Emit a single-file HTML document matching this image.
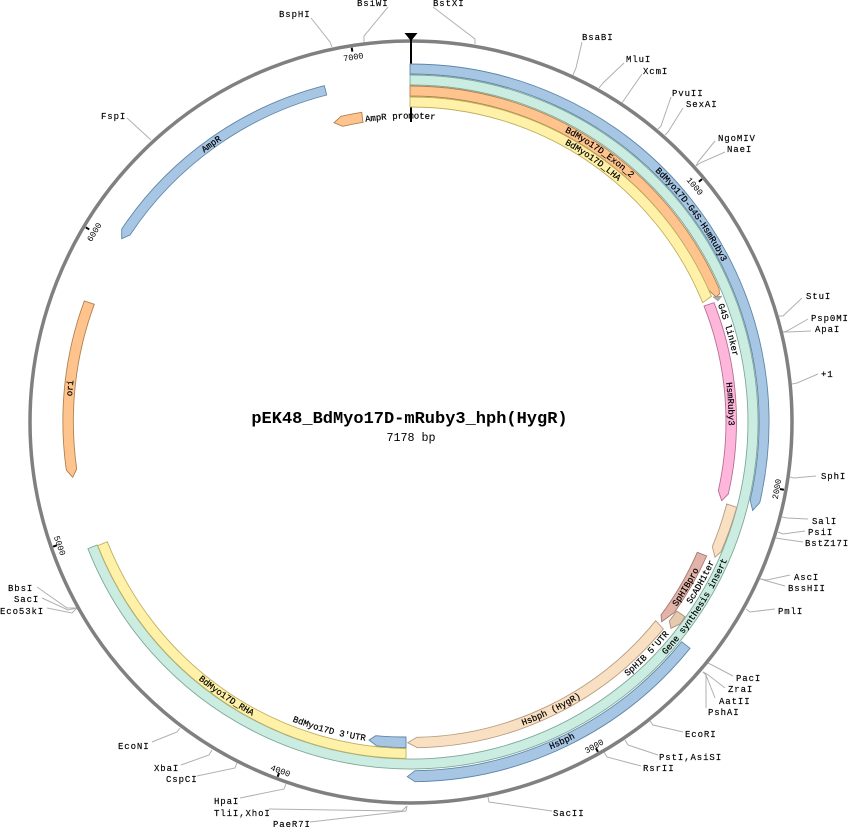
<!DOCTYPE html>
<html>
<head>
<meta charset="utf-8">
<style>
html,body{margin:0;padding:0;background:#fff;width:848px;height:827px;overflow:hidden}
svg{display:block}
text{font-family:"Liberation Mono",monospace;fill:#000}
.s{font-size:9px;letter-spacing:.9px;stroke:#000;stroke-width:.15}
.f{font-size:9px;text-anchor:middle;stroke:#000;stroke-width:.2}
.t{font-size:8.5px;text-anchor:middle}
.c{fill:none;stroke:#b0b0b0;stroke-width:1}
.b{fill:#a6c6e4;stroke:#5f86a8}
.g{fill:#cbede1;stroke:#7fa898}
.o{fill:#ffc48e;stroke:#b0814e}
.y{fill:#fff2a8;stroke:#bfaf60}
.p{fill:#fae0c2;stroke:#b59c7f}
.k{fill:#ffb6db;stroke:#b56f93}
.r{fill:#e2b3a8;stroke:#a3786f}
.n{fill:#e6c9ae;stroke:#a89078}
path{stroke-width:.9}
</style>
</head>
<body>
<svg width="848" height="827" viewBox="0 0 848 827" xmlns="http://www.w3.org/2000/svg">
<defs>
<path id="cw350" d="M411 72A350 350 0 1 1 411 772A350 350 0 1 1 411 72"/>
<path id="cw340" d="M411 82A340 340 0 1 1 411 762A340 340 0 1 1 411 82"/>
<path id="cw3395" d="M411 82.5A339.5 339.5 0 1 1 411 761.5A339.5 339.5 0 1 1 411 82.5"/>
<path id="cw3285" d="M411 93.5A328.5 328.5 0 1 1 411 750.5A328.5 328.5 0 1 1 411 93.5"/>
<path id="cw3175" d="M411 104.5A317.5 317.5 0 1 1 411 739.5A317.5 317.5 0 1 1 411 104.5"/>
<path id="cwb3035" d="M411 725.5A303.5 303.5 0 1 1 411 118.5A303.5 303.5 0 1 1 411 725.5"/>
<path id="cc356" d="M411 778A356 356 0 1 0 411 66A356 356 0 1 0 411 778"/>
<path id="cc345" d="M411 767A345 345 0 1 0 411 77A345 345 0 1 0 411 767"/>
<path id="cc334" d="M411 756A334 334 0 1 0 411 88A334 334 0 1 0 411 756"/>
<path id="cc3235" d="M411 745.5A323.5 323.5 0 1 0 411 98.5A323.5 323.5 0 1 0 411 745.5"/>
<path id="cc322" d="M411 744A322 322 0 1 0 411 100A322 322 0 1 0 411 744"/>
</defs>

<!-- connectors -->
<polyline class="c" points="311,18 330,42 332,47"/>
<polyline class="c" points="388,7 364,36 364,43"/>
<polyline class="c" points="433,7 475,39 475,44"/>
<polyline class="c" points="582,42 576,68 573,75"/>
<polyline class="c" points="624,63 603,83 599,88"/>
<polyline class="c" points="642,74 624,100 622,103"/>
<polyline class="c" points="671,97 661,126 658,129"/>
<polyline class="c" points="683,108 668,132 665,135"/>
<polyline class="c" points="715,141 698,162 696,166"/>
<polyline class="c" points="725,152 700,163 696,166"/>
<polyline class="c" points="802,298 783,316 779,316"/>
<polyline class="c" points="808,319 787,331 783,332"/>
<polyline class="c" points="811,331 788,332 783,332"/>
<polyline class="c" points="818,374 797,383 792,384"/>
<polyline class="c" points="816,476 794,478 790,477"/>
<polyline class="c" points="808,519 787,518 782,517"/>
<polyline class="c" points="805,531 783,534 778,532"/>
<polyline class="c" points="803,542 782,539 776,538"/>
<polyline class="c" points="790,575 767,580 760,579"/>
<polyline class="c" points="785,586 767,581 761,579"/>
<polyline class="c" points="775,609 750,612 746,609"/>
<polyline class="c" points="733,676 712,665 708,663"/>
<polyline class="c" points="725,688 707,674 703,672"/>
<polyline class="c" points="715,698 706,675 703,672"/>
<polyline class="c" points="706,708 706,675 703,672"/>
<polyline class="c" points="683,732 653,725 650,721"/>
<polyline class="c" points="658,755 628,745 625,740"/>
<polyline class="c" points="641,766 607,757 604,752"/>
<polyline class="c" points="552,811 489,802 488,797"/>
<polyline class="c" points="310,822 406,811 407,806"/>
<polyline class="c" points="269,809 402,811 407,806"/>
<polyline class="c" points="240,798 284,789 286,784"/>
<polyline class="c" points="197,776 235,768 237,763"/>
<polyline class="c" points="181,765 209,755 212,750"/>
<polyline class="c" points="152,742 177,732 180,728"/>
<polyline class="c" points="47,608 72,613 77,608"/>
<polyline class="c" points="42,598 68,610 77,608"/>
<polyline class="c" points="37,587 67,608 77,608"/>
<polyline class="c" points="127,118 151,140"/>

<!-- ring -->
<circle cx="411" cy="422" r="381" fill="none" stroke="#808080" stroke-width="3.5"/>

<!-- origin marker -->
<line x1="411" y1="38" x2="411" y2="122" stroke="#000" stroke-width="2"/>
<polygon points="404.5,33 417.5,33 411,41" fill="#000"/>

<!-- ticks -->
<g stroke="#000" stroke-width="2">
<line x1="411" y1="43" x2="411" y2="47" transform="rotate(50.15 411 422)"/>
<line x1="411" y1="43" x2="411" y2="47" transform="rotate(100.3 411 422)"/>
<line x1="411" y1="43" x2="411" y2="47" transform="rotate(150.45 411 422)"/>
<line x1="411" y1="43" x2="411" y2="47" transform="rotate(200.6 411 422)"/>
<line x1="411" y1="43" x2="411" y2="47" transform="rotate(250.8 411 422)"/>
<line x1="411" y1="43" x2="411" y2="47" transform="rotate(300.9 411 422)"/>
<line x1="411" y1="43" x2="411" y2="47" transform="rotate(351 411 422)"/>
</g>
<text class="t" transform="translate(695,186) rotate(50)" y="3">1000</text>
<text class="t" transform="translate(776.5,489) rotate(-80)" y="3">2000</text>
<text class="t" transform="translate(594,746) rotate(-29.5)" y="3">3000</text>
<text class="t" transform="translate(280.5,770.5) rotate(20.6)" y="3">4000</text>
<text class="t" transform="translate(60,545.5) rotate(70.8)" y="3">5000</text>
<text class="t" transform="translate(94,232) rotate(-59)" y="3">6000</text>
<text class="t" transform="translate(353.3,56.7) rotate(-9)" y="3">7000</text>

<!-- features -->
<path class="b" d="M410 64A358 358 0 0 1 759.8 502.5L752.7 510.4L750.1 500.3A348 348 0 0 0 410 74Z"/>
<path class="g" d="M410 75A347 347 0 1 1 87.9 548.6L97.2 545A337 337 0 1 0 410 85Z"/>
<path class="o" d="M410 86A336 336 0 0 1 719 288.5L719.5 294L716 297L708.5 290A326 326 0 0 0 410 96Z"/>
<path class="y" d="M410 97A325.5 325.5 0 0 1 711.5 296.3L702.7 302.7A315 315 0 0 0 410 107Z"/>
<polygon points="713,297 722,296 718,301" fill="#aaa" stroke="#888" stroke-width=".5"/>
<path class="k" d="M714 302.7A325 325 0 0 1 728.3 494L721.7 500.7L718.3 490.7A315 315 0 0 0 704 306Z"/>
<path class="p" d="M736.7 507.3A336 336 0 0 1 721 551.7L715 557.3L712.3 546.7A326 326 0 0 0 726.7 504Z"/>
<path class="r" d="M706.7 556A325 325 0 0 1 674.3 612.5L661.7 621.7L661 615A315 315 0 0 0 697.3 552.3Z"/>
<path class="n" d="M685 616.7A336 336 0 0 1 680 624L671 628.3L669.3 621A326 326 0 0 0 676.7 611Z"/>
<path class="p" d="M663.3 629A326 326 0 0 1 417.3 747.7L407.7 742.7L416.7 737.3A315 315 0 0 0 655.7 620.7Z"/>
<path class="b" d="M406 737L406 747.7A326 326 0 0 1 376.7 746L369 740L375.7 735.7A315 315 0 0 0 406 737Z"/>
<path class="y" d="M406 758.5A336.5 336.5 0 0 1 97.7 545.7L107.3 541.7A326.5 326.5 0 0 0 406 748.5Z"/>
<path class="b" d="M690 648.3A359 359 0 0 1 415 781.7L407.3 776.7L415 770.7A349 349 0 0 0 681.7 641.7Z"/>
<path class="b" d="M121.7 229A347.5 347.5 0 0 1 324.3 85.7L326.7 95A337.5 337.5 0 0 0 130 235L121.7 238.7Z"/>
<path class="o" d="M66.3 470A348 348 0 0 1 84.3 301L94.3 304.3A338 338 0 0 0 76.7 469L72.7 477.3Z"/>
<path class="o" d="M341 116.3A313.5 313.5 0 0 1 361.7 112.3L363 122.3A303.5 303.5 0 0 0 342.7 126.3L334 122.7Z"/>

<!-- feature labels -->
<text class="f"><textPath href="#cw350" startOffset="14.86%">BdMyo17D-G4S-HsmRuby3</textPath></text>
<text class="f"><textPath href="#cw3285" startOffset="9.72%">BdMyo17D_Exon_2</textPath></text>
<text class="f"><textPath href="#cw3175" startOffset="9.67%">BdMyo17D_LHA</textPath></text>
<text class="f"><textPath href="#cw3285" startOffset="20.5%">G4S linker</textPath></text>
<text class="f"><textPath href="#cw3175" startOffset="24.1%">HsmRuby3</textPath></text>
<text class="f"><textPath href="#cw3395" startOffset="90.08%">AmpR</textPath></text>
<text class="f"><textPath href="#cw340" startOffset="76.58%">ori</textPath></text>
<text class="f"><textPath href="#cwb3035" startOffset="49.44%">AmpR promoter</textPath></text>
<text class="f"><textPath href="#cc345" startOffset="15.83%">Gene synthesis insert</textPath></text>
<text class="f"><textPath href="#cc334" startOffset="16.97%">ScADH1ter</textPath></text>
<text class="f"><textPath href="#cc3235" startOffset="16.39%">SpHIBpro</textPath></text>
<text class="f"><textPath href="#cc334" startOffset="12.64%">SpHIB 5'UTR</textPath></text>
<text class="f"><textPath href="#cc3235" startOffset="7.22%">Hsbph (HygR)</textPath></text>
<text class="f"><textPath href="#cc356" startOffset="7.03%">Hsbph</textPath></text>
<text class="f"><textPath href="#cc322" startOffset="95.86%">BdMyo17D 3'UTR</textPath></text>
<text class="f"><textPath href="#cc334" startOffset="90.56%">BdMyo17D_RHA</textPath></text>

<!-- site labels -->
<text class="s" x="279" y="17">BspHI</text>
<text class="s" x="357" y="6">BsiWI</text>
<text class="s" x="433" y="6">BstXI</text>
<text class="s" x="582" y="40">BsaBI</text>
<text class="s" x="626" y="62">MluI</text>
<text class="s" x="643" y="74">XcmI</text>
<text class="s" x="672" y="96">PvuII</text>
<text class="s" x="686" y="107">SexAI</text>
<text class="s" x="718" y="141">NgoMIV</text>
<text class="s" x="727" y="152">NaeI</text>
<text class="s" x="806" y="299">StuI</text>
<text class="s" x="811" y="321">Psp0MI</text>
<text class="s" x="815" y="332">ApaI</text>
<text class="s" x="821" y="377">+1</text>
<text class="s" x="821" y="479">SphI</text>
<text class="s" x="812" y="524">SalI</text>
<text class="s" x="808" y="535">PsiI</text>
<text class="s" x="805" y="546">BstZ17I</text>
<text class="s" x="794" y="580">AscI</text>
<text class="s" x="788" y="591">BssHII</text>
<text class="s" x="778" y="614">PmlI</text>
<text class="s" x="736" y="681">PacI</text>
<text class="s" x="728" y="692">ZraI</text>
<text class="s" x="719" y="704">AatII</text>
<text class="s" x="708" y="715">PshAI</text>
<text class="s" x="685" y="737">EcoRI</text>
<text class="s" x="659" y="760">PstI,AsiSI</text>
<text class="s" x="643" y="771">RsrII</text>
<text class="s" x="553" y="816">SacII</text>
<text class="s" x="273" y="827">PaeR7I</text>
<text class="s" x="214" y="816">TliI,XhoI</text>
<text class="s" x="214" y="804">HpaI</text>
<text class="s" x="166" y="782">CspCI</text>
<text class="s" x="154" y="771">XbaI</text>
<text class="s" x="118" y="749">EcoNI</text>
<text class="s" x="0" y="614">Eco53kI</text>
<text class="s" x="14" y="602">SacI</text>
<text class="s" x="8" y="591">BbsI</text>
<text class="s" x="101" y="119">FspI</text>

<!-- title -->
<text x="409.5" y="423" text-anchor="middle" font-size="17" font-weight="bold">pEK48_BdMyo17D-mRuby3_hph(HygR)</text>
<text x="411" y="441" text-anchor="middle" font-size="11.7">7178 bp</text>
</svg>
</body>
</html>
